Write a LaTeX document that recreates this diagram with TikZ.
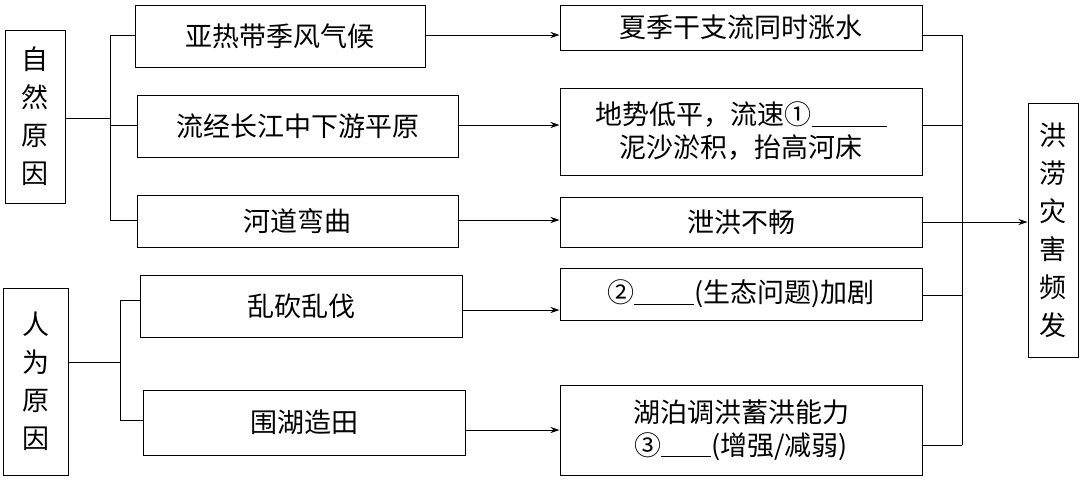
\documentclass[tikz,border=0pt]{standalone}
\usepackage{fontspec}
\setmainfont{Liberation Serif}
\newfontfamily\cjk{Noto Sans CJK SC}
\usetikzlibrary{arrows.meta}
\newcommand{\blank}[1]{\underline{\hspace{#1}}}
\begin{document}
\begin{tikzpicture}[x=1pt,y=-1pt,
  box/.style={draw,line width=1pt,inner sep=0pt,align=center,font=\cjk\fontsize{27}{33}\selectfont},
  vbox/.style={box,font=\cjk\fontsize{27}{38}\selectfont},
  ln/.style={line width=0.8pt},
  ar/.style={line width=0.8pt,-{Stealth[length=9pt,width=6pt]}}]
\useasboundingbox (0,0) rectangle (1080,483);
\node[vbox,minimum width=60pt,minimum height=173pt] (zr) at (35,116.5) {自\\然\\原\\因};
\node[vbox,minimum width=65pt,minimum height=187pt] (rw) at (35.5,381.5) {人\\为\\原\\因};
\node[box,minimum width=290pt,minimum height=62pt] (a1) at (280,36) {亚热带季风气候};
\node[box,minimum width=321pt,minimum height=62pt] (a2) at (297.5,126) {流经长江中下游平原};
\node[box,minimum width=321pt,minimum height=52pt] (a3) at (297.5,221) {河道弯曲};
\node[box,minimum width=322pt,minimum height=62pt] (a4) at (301,306) {乱砍乱伐};
\node[box,minimum width=322pt,minimum height=65pt] (a5) at (304,422.5) {围湖造田};
\node[box,minimum width=362pt,minimum height=45pt] (b1) at (741,27.5) {夏季干支流同时涨水};
\node[box,minimum width=362pt,minimum height=87pt] (b2) at (741,131.5) {地势低平，流速①\blank{75pt}\\泥沙淤积，抬高河床};
\node[box,minimum width=362pt,minimum height=50pt] (b3) at (741,222) {泄洪不畅};
\node[box,minimum width=362pt,minimum height=52pt] (b4) at (741,294) {②\blank{60pt}(生态问题)加剧};
\node[box,minimum width=362pt,minimum height=90pt] (b5) at (741,430) {湖泊调洪蓄洪能力\\③\blank{50pt}(增强/减弱)};
\node[vbox,minimum width=50pt,minimum height=254pt] (c) at (1053,230) {洪\\涝\\灾\\害\\频\\发};
\coordinate (j1) at (110,118);
\coordinate (j2) at (120,362);
\coordinate (k) at (962,222);
\draw[ln] (zr.east|-j1) -- (j1);
\draw[ln] (110,35) -- (110,220);
\draw[ln] (110,35) -- (a1.west|-0,35);
\draw[ln] (110,125) -- (a2.west|-0,125);
\draw[ln] (110,220) -- (a3.west|-0,220);
\draw[ln] (rw.east|-j2) -- (j2);
\draw[ln] (120,300) -- (120,420);
\draw[ln] (120,300) -- (a4.west|-0,300);
\draw[ln] (120,420) -- (a5.west|-0,420);
\draw[ar] (a1.east|-0,35) -- (b1.west|-0,35);
\draw[ar] (a2.east|-0,125) -- (b2.west|-0,125);
\draw[ar] (a3.east|-0,220) -- (b3.west|-0,220);
\draw[ar] (a4.east|-0,310) -- (b4.west|-0,310);
\draw[ar] (a5.east|-0,430) -- (b5.west|-0,430);
\draw[ln] (962,35) -- (962,445);
\draw[ln] (b1.east|-0,35) -- (962,35);
\draw[ln] (b2.east|-0,125) -- (962,125);
\draw[ln] (b3.east|-0,222) -- (962,222);
\draw[ln] (b4.east|-0,295) -- (962,295);
\draw[ln] (b5.east|-0,445) -- (962,445);
\draw[ar] (k) -- (c.west|-k);
\end{tikzpicture}
\end{document}
